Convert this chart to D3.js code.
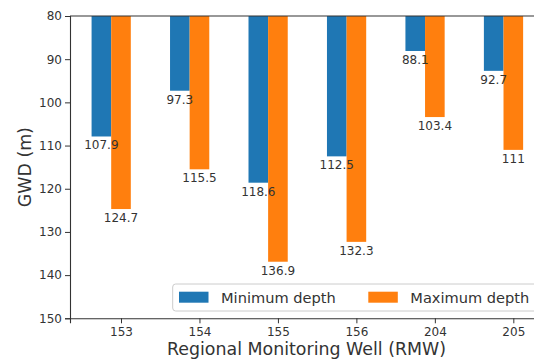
<!DOCTYPE html>
<html>
<head>
<meta charset="utf-8">
<script src="https://cdn.jsdelivr.net/npm/d3@7/dist/d3.min.js"></script>
<style>
  html, body { margin: 0; padding: 0; background: #fff; overflow: hidden; }
  svg { display: block; font-family: "DejaVu Sans", sans-serif; }
</style>
</head>
<body>
<svg id="chart" width="534" height="362"></svg>
<script>
// Groundwater depth per regional monitoring well
const wells = ["153", "154", "155", "156", "204", "205"];
const minDepth = [107.9, 97.3, 118.6, 112.5, 88.1, 92.7];
const maxDepth = [124.7, 115.5, 136.9, 132.3, 103.4, 111];
const yTicks = [80, 90, 100, 110, 120, 130, 140, 150];
const seriesNames = ["Minimum depth", "Maximum depth"];
const seriesColors = ["#1f77b4", "#ff7f0e"];

const svg = d3.select("#chart");
const ink = "#333";

// Wells are placed at integer positions; the axis runs a little past both ends
const x = d3.scaleLinear().domain([-0.65, 5.4]).range([70, 544.7]);
const y = d3.scaleLinear().domain([80, 150]).range([16, 318.3]);
const barW = 0.25;

const series = [minDepth, maxDepth];
const offsets = [-barW, 0];

// Bars first, then all value labels on top of them
series.forEach((vals, s) => {
  svg.append("g").selectAll("rect").data(vals).join("rect")
    .attr("x", (d, i) => x(i + offsets[s] - barW / 2))
    .attr("width", x(barW) - x(0))
    .attr("y", y(80))
    .attr("height", d => y(d) - y(80))
    .attr("fill", seriesColors[s]);
});
series.forEach((vals, s) => {
  svg.append("g").selectAll("text").data(vals).join("text")
    .attr("x", (d, i) => x(i + offsets[s]))
    .attr("y", d => y(d) + 13)
    .attr("text-anchor", "middle")
    .attr("font-size", 12)
    .attr("fill", ink)
    .text(d => String(d));
});

// Axes
const yAxis = svg.append("g")
  .attr("transform", `translate(${x(-0.65)},0)`)
  .call(d3.axisLeft(y).tickValues(yTicks).tickSize(5).tickPadding(3));
const xAxis = svg.append("g")
  .attr("transform", `translate(0,${y(150)})`)
  .call(d3.axisBottom(x).tickValues(d3.range(wells.length)).tickFormat(i => wells[i]).tickSize(5).tickPadding(4));
[yAxis, xAxis].forEach(a => {
  a.selectAll("path").attr("stroke", ink).attr("stroke-width", 1.1);
  a.selectAll("line").attr("stroke", ink);
  a.selectAll("text").attr("fill", ink).attr("font-size", 12).attr("font-family", "DejaVu Sans");
});
// top spine
svg.append("line")
  .attr("x1", x(-0.65)).attr("x2", x(5.4))
  .attr("y1", y(80)).attr("y2", y(80))
  .attr("stroke", ink).attr("stroke-width", 1.1);

// Axis titles
svg.append("text")
  .attr("x", 306.5).attr("y", 355)
  .attr("text-anchor", "middle")
  .attr("font-size", 17.4).attr("fill", ink)
  .text("Regional Monitoring Well (RMW)");
svg.append("text")
  .attr("transform", `translate(30.5,${(y(80) + y(150)) / 2}) rotate(-90)`)
  .attr("text-anchor", "middle")
  .attr("font-size", 17.4).attr("fill", ink)
  .text("GWD (m)");

// Legend
const lg = svg.append("g");
lg.append("rect")
  .attr("x", 172.7).attr("y", 284).attr("width", 380).attr("height", 27)
  .attr("rx", 3).attr("fill", "#fff").attr("fill-opacity", 0.8)
  .attr("stroke", "#ccc");
const legendX = [179, 368.3];
seriesNames.forEach((name, s) => {
  lg.append("rect")
    .attr("x", legendX[s]).attr("y", 291.7).attr("width", 29.5).attr("height", 11)
    .attr("fill", seriesColors[s]);
  lg.append("text")
    .attr("x", legendX[s] + 42).attr("y", 302.5)
    .attr("font-size", 14.6).attr("fill", ink)
    .text(name);
});
</script>
</body>
</html>
